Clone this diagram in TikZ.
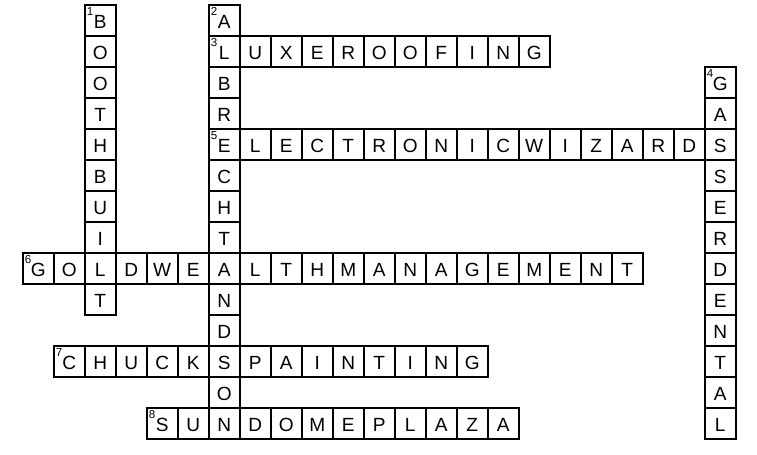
\documentclass[tikz,border=0pt]{standalone}
\usepackage{fontspec}
\setmainfont{Liberation Sans}
\usepackage{tikz}
\usetikzlibrary{positioning}

\begin{document}
\begin{tikzpicture}
  [
    x=8mm, y=8mm,
    cell/.style={draw=black, line width=1.3pt, minimum size=8mm,
      inner sep=0pt, text height=12pt, text depth=0pt,
      font=\fontsize{14}{14}\selectfont},
    num/.style={inner sep=0pt, font=\fontsize{8.5}{8.5}\selectfont}
  ]
  \useasboundingbox (-0.732,0.171) rectangle (23.687,-14.506);

  \foreach \l [count=\i from 0] in {B,O,O,T,H,B,U,I,L,T}
    \node (booth\i) at (2.5,{-\i-0.5}) [cell] {\l};
  \foreach \l [count=\i from 0] in {A,L,B,R,E,C,H,T,A,N,D,S,O,N}
    \node (albrecht\i) at (6.5,{-\i-0.5}) [cell] {\l};
  \foreach \l [count=\i from 0] in {G,A,S,S,E,R,D,E,N,T,A,L}
    \node (gasser\i) at (22.5,{-\i-2.5}) [cell] {\l};
  \foreach \l [count=\i from 0] in {{},U,X,E,R,O,O,F,I,N,G}
    \node (luxe\i) at ({\i+6.5},-1.5) [cell] {\l};
  \foreach \l [count=\i from 0] in {{},L,E,C,T,R,O,N,I,C,W,I,Z,A,R,D,{}}
    \node (wizards\i) at ({\i+6.5},-4.5) [cell] {\l};
  \foreach \l [count=\i from 0] in {G,O,{},D,W,E,{},L,T,H,M,A,N,A,G,E,M,E,N,T}
    \node (gold\i) at ({\i+0.5},-8.5) [cell] {\l};
  \foreach \l [count=\i from 0] in {C,H,U,C,K,{},P,A,I,N,T,I,N,G}
    \node (chucks\i) at ({\i+1.5},-11.5) [cell] {\l};
  \foreach \l [count=\i from 0] in {S,U,{},D,O,M,E,P,L,A,Z,A}
    \node (sundome\i) at ({\i+4.5},-13.5) [cell] {\l};

  \node (n1) [num, below right=2pt and 2pt of booth0.north west]     {1};
  \node (n2) [num, below right=2pt and 2pt of albrecht0.north west]  {2};
  \node (n3) [num, below right=2pt and 2pt of luxe0.north west]      {3};
  \node (n4) [num, below right=2pt and 2pt of gasser0.north west]    {4};
  \node (n5) [num, below right=2pt and 2pt of wizards0.north west]   {5};
  \node (n6) [num, below right=2pt and 2pt of gold0.north west]      {6};
  \node (n7) [num, below right=2pt and 2pt of chucks0.north west]    {7};
  \node (n8) [num, below right=2pt and 2pt of sundome0.north west]   {8};
\end{tikzpicture}
\end{document}
